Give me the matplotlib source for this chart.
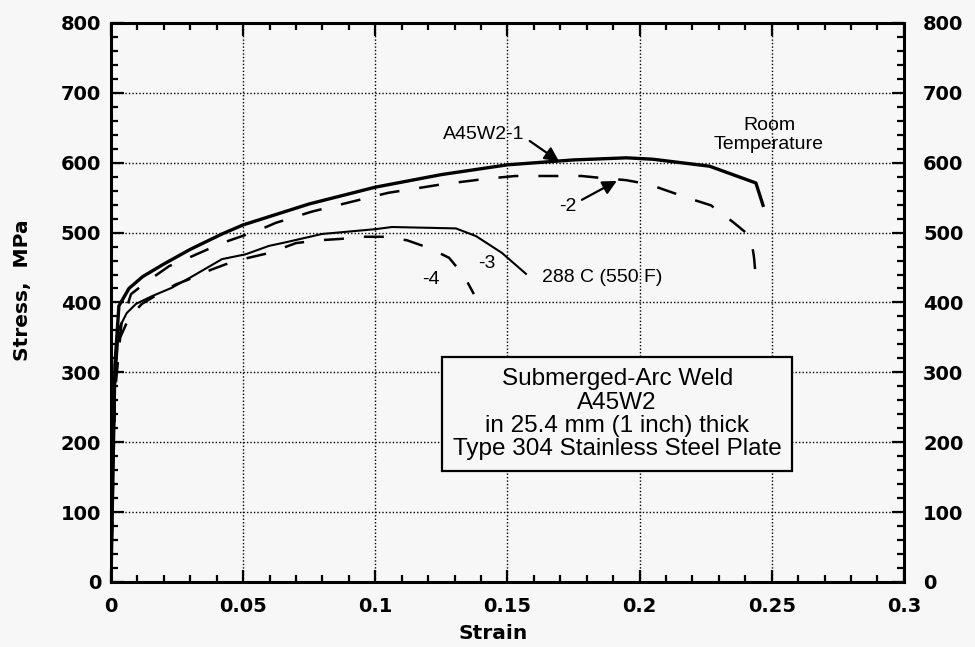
import numpy as np
import matplotlib
matplotlib.use("Agg")
import matplotlib.pyplot as plt
from matplotlib.font_manager import FontProperties
from matplotlib.ticker import MultipleLocator

# A45W2-1, room temperature (solid)
rt1_strain = [0, 0.0015, 0.003, 0.0068, 0.012, 0.02, 0.03, 0.042, 0.05, 0.075,
              0.1, 0.125, 0.15, 0.175, 0.195, 0.205, 0.2265, 0.244, 0.2467]
rt1_stress = [0, 310, 395, 420, 437, 455, 476, 498, 511, 541,
              565, 583, 597, 604, 607, 605, 595, 571, 539]

# A45W2-2, room temperature (dashed)
rt2_strain = [0, 0.0015, 0.004, 0.0076, 0.0144, 0.022, 0.0306, 0.042, 0.055, 0.0624,
              0.076, 0.092, 0.105, 0.1135, 0.125, 0.142, 0.153, 0.165, 0.178, 0.186,
              0.195, 0.2036, 0.2111, 0.2187, 0.227, 0.2357, 0.2421, 0.2433, 0.244]
rt2_stress = [0, 290, 370, 412, 432, 452, 466, 485, 502, 514,
              530, 545, 557, 562, 569, 577, 581, 581, 581, 578,
              575, 569, 559, 549, 539, 514, 494, 464, 434]

# A45W2-3, 288 C (thin solid)
ht3_strain = [0, 0.0015, 0.003, 0.006, 0.0095, 0.0155, 0.023, 0.0306, 0.042, 0.051,
              0.0598, 0.066, 0.0798, 0.1003, 0.1063, 0.1305, 0.1381, 0.1479, 0.157]
ht3_stress = [0, 280, 363, 385, 398, 409, 421, 437, 462, 469,
              481, 486, 498, 505, 508, 506, 495, 471, 441]

# A45W2-4, 288 C (dashed)
ht4_strain = [0, 0.0015, 0.0035, 0.0068, 0.0117, 0.017, 0.0246, 0.0288, 0.038, 0.0458,
              0.051, 0.06, 0.07, 0.0787, 0.087, 0.095, 0.1033, 0.112, 0.1203, 0.1279,
              0.1336, 0.1373]
ht4_stress = [0, 270, 350, 378, 398, 410, 426, 432, 447, 458,
              463, 471, 485, 489, 491, 494, 494, 489, 478, 464,
              438, 412]

x_ticks = [0, 0.05, 0.1, 0.15, 0.2, 0.25, 0.3]
x_ticklabels = ["0", "0.05", "0.1", "0.15", "0.2", "0.25", "0.3"]
y_ticks = [0, 100, 200, 300, 400, 500, 600, 700, 800]
y_ticklabels = ["0", "100", "200", "300", "400", "500", "600", "700", "800"]

box_text = ("Submerged-Arc Weld\nA45W2\nin 25.4 mm (1 inch) thick\n"
            "Type 304 Stainless Steel Plate")

bg = "#f7f7f7"
fig = plt.figure(figsize=(9.75, 6.47), dpi=100, facecolor=bg)
ax = fig.add_axes([0.1138, 0.1005, 0.8133, 0.864], facecolor=bg)

ax.plot(rt1_strain, rt1_stress, color="black", lw=2.4, solid_joinstyle="round")
ax.plot(rt2_strain, rt2_stress, color="black", lw=1.8, linestyle=(0, (8, 8)))
ax.plot(ht3_strain, ht3_stress, color="black", lw=1.5)
ax.plot(ht4_strain, ht4_stress, color="black", lw=1.8, linestyle=(0, (8, 8)))

ax.set_xlim(0, 0.3)
ax.set_ylim(0, 800)
ax.set_xticks(x_ticks)
ax.set_yticks(y_ticks)
ax.set_xticklabels(x_ticklabels)
ax.set_yticklabels(y_ticklabels)
ax.xaxis.set_minor_locator(MultipleLocator(0.01))
ax.yaxis.set_minor_locator(MultipleLocator(20))

tick_font = FontProperties(family="DejaVu Sans", weight="bold", size=14)
ax.tick_params(which="both", direction="in", top=True, right=True,
               labelright=True, width=1.6, color="black")
ax.tick_params(which="major", length=9)
ax.tick_params(which="minor", length=5)
ax.tick_params(axis="x", which="major", pad=11)
ax.tick_params(axis="y", which="major", pad=7)
for t in ax.xaxis.get_major_ticks():
    t.label1.set_fontproperties(tick_font)
for t in ax.yaxis.get_major_ticks():
    t.label1.set_fontproperties(tick_font)
    t.label2.set_fontproperties(tick_font)
    # right-hand labels sit a little further out from the frame
    t.label2.set_x(1.012)

for s in ax.spines.values():
    s.set_linewidth(2.2)

ax.grid(True, which="major", linestyle=(0, (1, 1.5)), color="black", lw=1.0)

ax.set_xlabel("Strain", family="DejaVu Sans", weight="bold", fontsize=14.5)
ax.set_ylabel("Stress,  MPa", family="DejaVu Sans", weight="bold", fontsize=14.5)
ax.xaxis.set_label_coords(0.482, -0.075)
ax.yaxis.set_label_coords(-0.1, 0.522)

txt = dict(family="Liberation Sans", fontsize=14, color="black")
arrow = dict(arrowstyle="-|>,head_length=0.6,head_width=0.3", color="black",
             lw=1.6, shrinkA=2, shrinkB=0)

ax.annotate("A45W2-1", xy=(0.1695, 602), xytext=(0.1411, 641),
            ha="center", va="center", arrowprops=dict(arrow, relpos=(1.0, 0.3)), **txt)
ax.annotate("-2", xy=(0.1914, 574), xytext=(0.1729, 538),
            ha="center", va="center", arrowprops=dict(arrow, relpos=(1.0, 0.7)), **txt)
ax.text(0.1423, 456, "-3", ha="center", va="center", **txt)
ax.text(0.1211, 433, "-4", ha="center", va="center", **txt)
ax.text(0.1631, 436, "288 C (550 F)", ha="left", va="center", **txt)
ax.text(0.249, 639, "Room\nTemperature", ha="center", va="center",
        linespacing=1.15, **txt)

ax.text(0.1915, 240, box_text, ha="center", va="center", family="Liberation Sans",
        fontsize=17.5, linespacing=1.08,
        bbox=dict(boxstyle="square,pad=0.45", facecolor=bg, edgecolor="black", lw=1.6))

fig.savefig("out.png", dpi=100, facecolor=bg)
